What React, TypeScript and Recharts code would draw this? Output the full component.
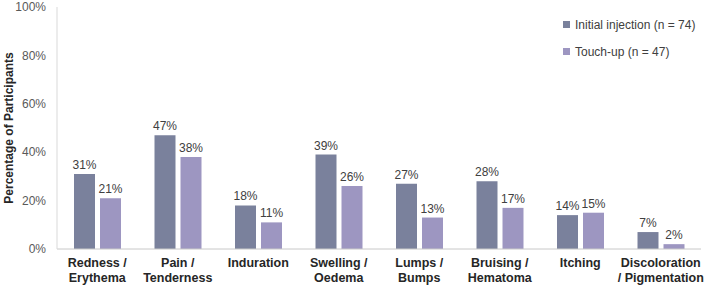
import React from "react";
import { BarChart, Bar, XAxis, YAxis, LabelList } from "recharts";

const categories = [
  "Redness /\nErythema",
  "Pain /\nTenderness",
  "Induration",
  "Swelling /\nOedema",
  "Lumps /\nBumps",
  "Bruising /\nHematoma",
  "Itching",
  "Discoloration\n/ Pigmentation",
];
const initialInjection = [31, 47, 18, 39, 27, 28, 14, 7];
const touchUp = [21, 38, 11, 26, 13, 17, 15, 2];
const yTicks = [0, 20, 40, 60, 80, 100];

const seriesNames = ["Initial injection (n = 74)", "Touch-up (n = 47)"];
const colors = ["#7a819c", "#9d96c1"];

const data = categories.map((c, i) => ({
  category: c,
  initial: initialInjection[i],
  touchup: touchUp[i],
}));

const FONT = "'Liberation Sans', Arial, sans-serif";

const CategoryTick = (props: any) => {
  const { x, y, payload } = props;
  const lines = String(payload.value).split("\n");
  return (
    <g transform={`translate(${x},${y})`}>
      {lines.map((l: string, i: number) => (
        <text
          key={i}
          x={0}
          y={6 + i * 14.5}
          dy="0.35em"
          textAnchor="middle"
          fontFamily={FONT}
          fontSize={12.5}
          fontWeight="bold"
          fill="#262626"
        >
          {l}
        </text>
      ))}
    </g>
  );
};

const Legend = () => (
  <g fontFamily={FONT} fontSize={12} fill="#404040">
    {seriesNames.map((n, i) => (
      <g key={n}>
        <rect x={563} y={21 + i * 27} width={7} height={7} fill={colors[i]} />
        <text x={575} y={25 + i * 27} dy="0.35em">
          {n}
        </text>
      </g>
    ))}
  </g>
);

const pct = (v: any) => `${v}%`;

export default function App() {
  return (
    <div style={{ position: "fixed", left: 0, top: 0, background: "#fff" }}>
      <BarChart
        width={709}
        height={286}
        data={data}
        margin={{ top: 7, right: 8, bottom: 0, left: 0 }}
        barSize={21}
        barGap={5}
      >
        <XAxis
          dataKey="category"
          interval={0}
          height={37}
          tickLine={false}
          axisLine={{ stroke: "#c8c8c8" }}
          tick={<CategoryTick />}
        />
        <YAxis
          width={57}
          domain={[0, 100]}
          ticks={yTicks}
          tickFormatter={pct}
          tickLine={false}
          tickMargin={5}
          axisLine={{ stroke: "#d9d9d9" }}
          tick={{ fontFamily: FONT, fontSize: 12, fill: "#595959" }}
          label={{
            content: (p: any) => {
              const vb = p.viewBox || {};
              const cy = (vb.y || 0) + (vb.height || 0) / 2;
              return (
                <text
                  x={9}
                  y={cy}
                  transform={`rotate(-90, 9, ${cy})`}
                  textAnchor="middle"
                  dy="0.35em"
                  fontFamily={FONT}
                  fontSize={12}
                  fontWeight="bold"
                  fill="#262626"
                >
                  Percentage of Participants
                </text>
              );
            },
          }}
        />
        <Bar dataKey="initial" fill={colors[0]} isAnimationActive={false}>
          <LabelList
            dataKey="initial"
            position="top"
            offset={5}
            formatter={pct}
            style={{ fontFamily: FONT, fontSize: 12, fill: "#404040" }}
          />
        </Bar>
        <Bar dataKey="touchup" fill={colors[1]} isAnimationActive={false}>
          <LabelList
            dataKey="touchup"
            position="top"
            offset={5}
            formatter={pct}
            style={{ fontFamily: FONT, fontSize: 12, fill: "#404040" }}
          />
        </Bar>
        <Legend />
      </BarChart>
    </div>
  );
}
